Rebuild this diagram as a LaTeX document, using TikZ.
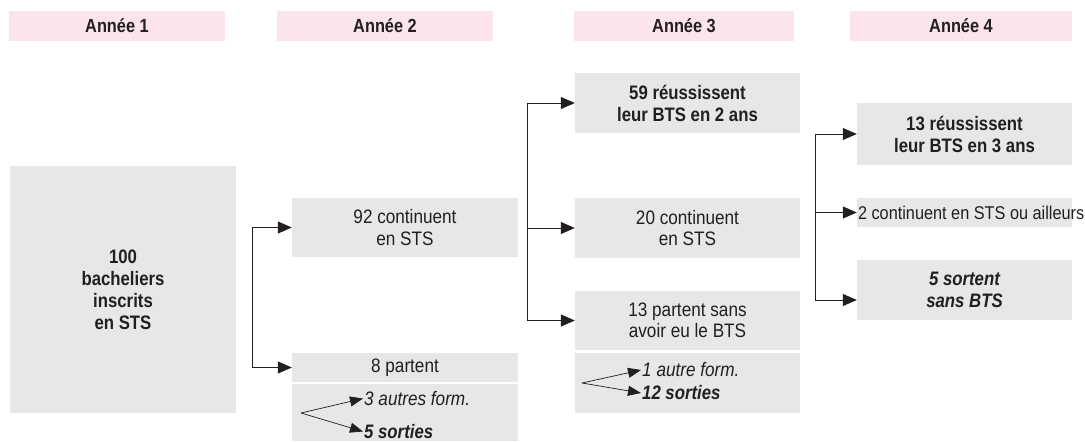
\documentclass[tikz,border=0pt]{standalone}
\usepackage{fontspec}
\setmainfont{Liberation Sans}[FakeStretch=0.88,
  BoldFeatures={FakeStretch=0.86}, BoldItalicFeatures={FakeStretch=0.86}]
\usetikzlibrary{arrows.meta}

\definecolor{boxgray}{RGB}{230,231,232}
\definecolor{headpink}{RGB}{252,228,238}
\definecolor{ink}{RGB}{35,31,32}

\tikzset{
  head/.style={fill=headpink, minimum width=216pt, minimum height=30pt,
    inner sep=0pt, text=ink, font=\bfseries\fontsize{19}{21}\selectfont},
  cell/.style={fill=boxgray, inner sep=0pt, align=center, text=ink,
    font=\fontsize{19.5}{21.5}\selectfont},
  cellb/.style={cell, font=\bfseries\fontsize{19.5}{22}\selectfont},
  lbl/.style={inner sep=1pt, anchor=west, text=ink,
    font=\itshape\fontsize{19.5}{21}\selectfont},
  lblb/.style={lbl, font=\bfseries\itshape\fontsize{19.5}{21}\selectfont},
  arr/.style={draw=ink, line width=0.8pt, -{Triangle[length=14pt,width=12pt]}},
  arrs/.style={draw=ink, line width=0.7pt, -{Triangle[length=13pt,width=10pt]}},
}

\begin{document}
\begin{tikzpicture}[x=1pt, y=-1pt]
  \useasboundingbox (0,0) rectangle (1085,442);

  % headers
  \node[head] (h1) at (117,26) {Année 1};
  \node[head] (h2) at (385,26) {Année 2};
  \node[head, minimum width=220pt] (h3) at (684,26) {Année 3};
  \node[head, minimum width=222pt] (h4) at (961,26) {Année 4};

  % year 1
  \node[cellb, minimum width=226pt, minimum height=247pt] (start) at (123,289.5)
    {100\\bacheliers\\inscrits\\en STS};

  % year 2
  \node[cell, minimum width=226pt, minimum height=59pt] (cont92) at (405,227.5)
    {92 continuent\\en STS};
  \node[cell, minimum width=226pt, minimum height=29pt] (part8) at (405,367.5)
    {8 partent};
  \node[cell, minimum width=226pt, minimum height=57pt] (out8) at (405,412.5) {};
  \node[lbl] (alt8) at (363,398.5) {3 autres form.};
  \node[lblb] (exit8) at (363,431.5) {5 sorties};

  % year 3
  \node[cellb, minimum width=225pt, minimum height=60pt] (r59) at (687.5,103)
    {59 réussissent\\leur BTS en 2 ans};
  \node[cell, minimum width=225pt, minimum height=60pt] (cont20) at (687.5,228)
    {20 continuent\\en STS};
  \node[cell, minimum width=225pt, minimum height=59pt] (part13) at (687.5,320.5)
    {13 partent sans\\avoir eu le BTS};
  \node[cell, minimum width=225pt, minimum height=60pt] (out13) at (687.5,383) {};
  \node[lbl] (alt13) at (641,370) {1 autre form.};
  \node[lblb] (exit13) at (641,393) {12 sorties};

  % year 4
  \node[cellb, minimum width=215pt, minimum height=62pt] (r13) at (964.5,134)
    {13 réussissent\\leur BTS en 3 ans};
  \node[cell, minimum width=215pt, minimum height=29pt] (cont2) at (964.5,212.5) {};
  \node[inner sep=1pt, anchor=west, text=ink, font=\fontsize{18.5}{21}\selectfont]
    (cont2t) at (cont2.west) {2 continuent en STS ou ailleurs};
  \node[cellb, font=\bfseries\itshape\fontsize{19.5}{22}\selectfont,
    minimum width=215pt, minimum height=60pt] (sort5) at (964.5,290)
    {5 sortent\\sans BTS};

  % connectors
  \coordinate (fk1) at (252,300);
  \coordinate (fk2) at (527,228);
  \coordinate (fk3) at (815,212.5);
  \coordinate (fk4) at (301,413);
  \coordinate (fk5) at (582,383);

  \draw[arr] (fk1) |- (cont92.west);
  \draw[arr] (fk1) |- (part8.west);
  \draw[arr] (fk2) |- (r59.west);
  \draw[arr] (fk2) -- (cont20.west);
  \draw[arr] (fk2) |- (part13.west);
  \draw[arr] (fk3) |- (r13.west);
  \draw[arr] (fk3) -- (cont2.west);
  \draw[arr] (fk3) |- ([yshift=-10pt]sort5.west);
  \draw[arrs] (fk4) -- (alt8.west);
  \draw[arrs] (fk4) -- (exit8.west);
  \draw[arrs] (fk5) -- (alt13.west);
  \draw[arrs] (fk5) -- (exit13.west);
\end{tikzpicture}
\end{document}
